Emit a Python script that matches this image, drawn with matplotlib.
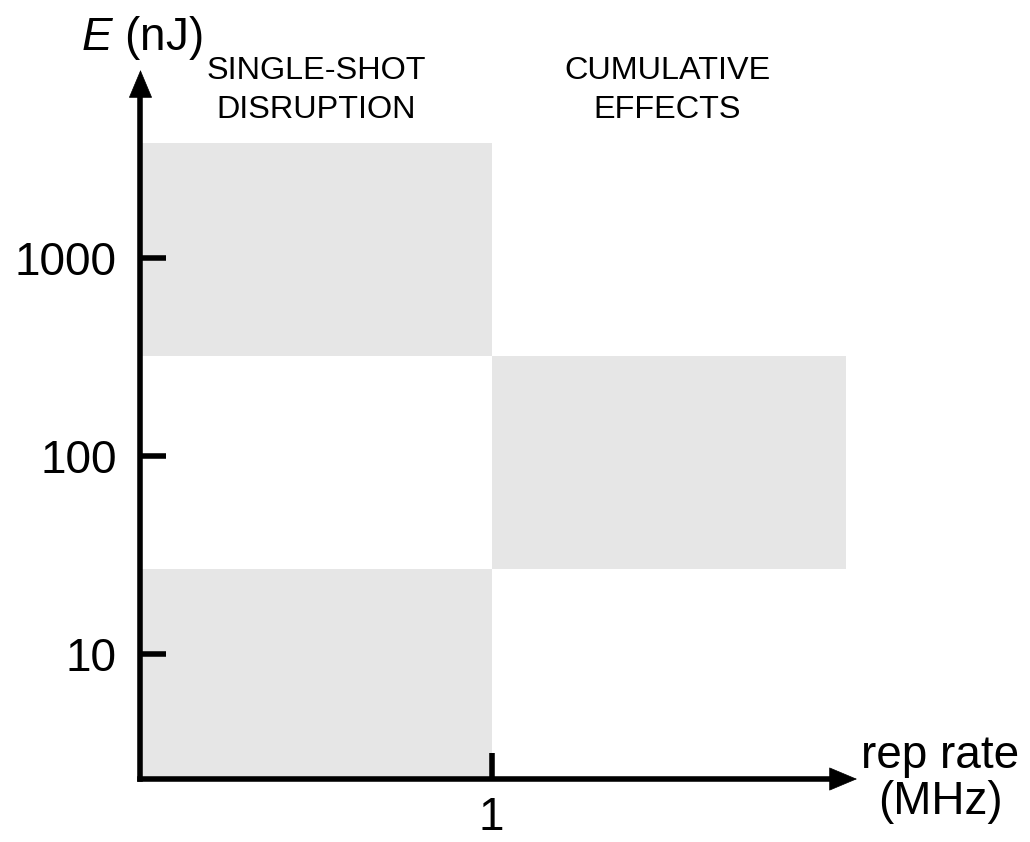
import matplotlib
matplotlib.use("Agg")
import matplotlib.pyplot as plt

plt.rcParams['font.family'] = ['Liberation Sans', 'DejaVu Sans']
plt.rcParams['mathtext.fontset'] = 'custom'
plt.rcParams['mathtext.rm'] = 'Liberation Sans'
plt.rcParams['mathtext.it'] = 'Liberation Sans:italic'

# axis ranges (rep rate in MHz, linear; energy in nJ, log)
x_range = (0, 2.041)
e_range = (2.337, 8900)

# shaded regimes: rep rate span and energy span
region_x0 = [0, 0, 1]
region_x1 = [1, 1, 2.01]
region_e_lo = [320, e_range[0], 27]
region_e_hi = [3800, 27, 320]

y_ticks = [10, 100, 1000]
y_ticklabels = ['10', '100', '1000']
x_ticks = [1]
x_ticklabels = ['1']

region_labels = ['SINGLE-SHOT\nDISRUPTION', 'CUMULATIVE\nEFFECTS']
region_label_x = [0.5, 1.5]

fig = plt.figure(figsize=(10.3, 8.42), dpi=100)
ax = fig.add_axes([0.1364, 0.0748, 0.6956, 0.842])

widths = [b - a for a, b in zip(region_x0, region_x1)]
heights = [h - l for l, h in zip(region_e_lo, region_e_hi)]
ax.bar(region_x0, heights, width=widths, bottom=region_e_lo, align='edge',
       color='#e6e6e6', linewidth=0, zorder=1)

ax.set_yscale('log')
ax.set_xlim(*x_range)
ax.set_ylim(*e_range)

for s in ax.spines.values():
    s.set_visible(False)

ax.set_yticks(y_ticks)
ax.set_yticklabels(y_ticklabels)
ax.yaxis.set_minor_locator(matplotlib.ticker.NullLocator())
ax.set_xticks(x_ticks)
ax.set_xticklabels(x_ticklabels)
ax.tick_params(axis='both', direction='in', length=19, width=4, labelsize=33,
               color='black')
ax.tick_params(axis='y', pad=17)
ax.tick_params(axis='x', pad=12)

# axis lines with separate slim arrowheads
tr = ax.transAxes
ax.plot([0, 0.97], [0, 0], color='black', lw=4, transform=tr, clip_on=False,
        solid_capstyle='projecting', zorder=4)
ax.plot([0, 0], [0, 0.97], color='black', lw=4, transform=tr, clip_on=False,
        solid_capstyle='projecting', zorder=4)
head = dict(arrowstyle='-|>,head_length=1.0,head_width=0.42', lw=0.5,
            color='black', shrinkA=0, shrinkB=0, mutation_scale=19)
ax.annotate('', xy=(1, 0), xytext=(0.95, 0), xycoords='axes fraction',
            arrowprops=head, zorder=5)
ax.annotate('', xy=(0, 1), xytext=(0, 0.95), xycoords='axes fraction',
            arrowprops=head, zorder=5)

ax.text(0.002, 1.045, '$E$ (nJ)', transform=tr, ha='center',
        va='center', fontsize=33)
ax.text(1.116, 0.0, 'rep rate\n(MHz)', transform=tr, ha='center',
        va='center', fontsize=33, linespacing=1.05)

for lab, xc in zip(region_labels, region_label_x):
    ax.text(xc, 0.9707, lab, transform=ax.get_xaxis_transform(), ha='center',
            va='center', fontsize=23.3, linespacing=1.4)

fig.savefig('out.png', dpi=100)
